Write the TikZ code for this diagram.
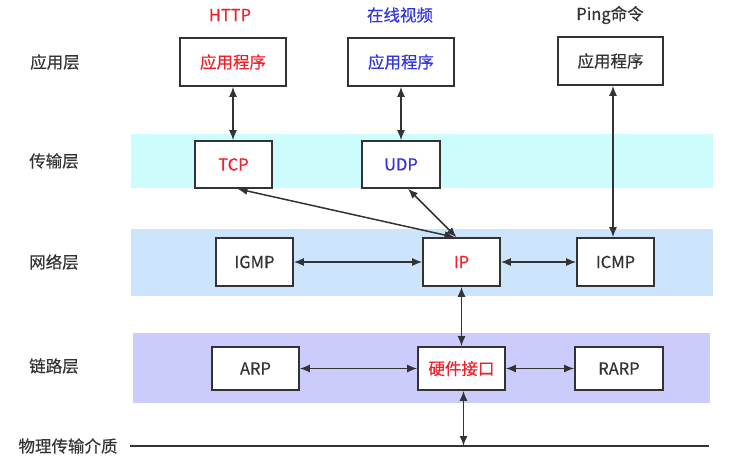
\documentclass[tikz,border=0pt]{standalone}
\usepackage{fontspec}
\setmainfont{Noto Sans CJK SC}[FakeBold=0.4]
\usetikzlibrary{arrows.meta}
\definecolor{tband}{HTML}{CCFCFC}
\definecolor{nband}{HTML}{CCE5FC}
\definecolor{lband}{HTML}{CCCCFC}
\definecolor{myred}{HTML}{F0202A}
\definecolor{myblue}{HTML}{3434E0}
\definecolor{dk}{HTML}{333333}
\begin{document}
\begin{tikzpicture}[x=1pt,y=-1pt,
  box/.style={draw=dk, line width=1.6pt, fill=white, inner sep=0pt, font=\fontsize{16.5}{19}\selectfont, text=dk},
  arr/.style={{Latex[length=10pt,width=8pt]}-{Latex[length=10pt,width=8pt]}, line width=1.5pt, draw=dk},
  lbl/.style={font=\fontsize{16.5}{19}\selectfont, text=dk, inner sep=0pt}]
\useasboundingbox (0,0) rectangle (752,467);
\fill[white] (0,0) rectangle (752,467);
% bands
\fill[tband] (131,134) rectangle (713,188);
\fill[nband] (131,229) rectangle (713,296);
\fill[lband] (133,333) rectangle (710,403);
% layer labels
\node[lbl] (l1) at (55,62) {应用层};
\node[lbl] (l2) at (54,161) {传输层};
\node[lbl] (l3) at (54,262) {网络层};
\node[lbl] (l4) at (54,366) {链路层};
\node[lbl] (l5) at (68,446) {物理传输介质};
% top labels
\node[lbl, text=myred] (t1) at (230,15) {HTTP};
\node[lbl, text=myblue] (t2) at (400,15) {在线视频};
\node[lbl] (t3) at (610,15) {Ping命令};
% application boxes
\node[box, minimum width=106pt, minimum height=48pt, text=myred] (a1) at (233,62) {应用程序};
\node[box, minimum width=106pt, minimum height=48pt, text=myblue] (a2) at (401,62) {应用程序};
\node[box, minimum width=105pt, minimum height=48pt] (a3) at (610.5,61) {应用程序};
% transport
\node[box, minimum width=77pt, minimum height=47pt, text=myred] (tcp) at (233.5,164.5) {TCP};
\node[box, minimum width=78pt, minimum height=47pt, text=myblue] (udp) at (401,164.5) {UDP};
% network
\node[box, minimum width=77pt, minimum height=48pt] (igmp) at (254.5,262) {IGMP};
\node[box, minimum width=77pt, minimum height=48pt, text=myred] (ip) at (461.5,262) {IP};
\node[box, minimum width=77pt, minimum height=48pt] (icmp) at (615.5,262) {ICMP};
% link
\node[box, minimum width=87pt, minimum height=43pt] (arp) at (255.5,368.5) {ARP};
\node[box, minimum width=87pt, minimum height=43pt, text=myred] (hw) at (461.5,368.5) {硬件接口};
\node[box, minimum width=88pt, minimum height=43pt] (rarp) at (619,368.5) {RARP};
% physical line
\coordinate (pl) at (130,446);
\coordinate (pr) at (709,446);
\draw[dk, line width=1.5pt] (pl) -- (pr);
% connectors
\draw[arr] (a1.south) -- (tcp.north -| a1.south);
\draw[arr] (a2.south) -- (udp.north);
\draw[arr] ([xshift=2.5pt]a3.south) -- ([xshift=-2.5pt]icmp.north);
\draw[arr] ([xshift=4pt]tcp.south) -- ([xshift=-7pt]ip.north);
\draw[arr] ([xshift=7pt]udp.south) -- ([xshift=-5pt]ip.north);
\draw[arr] (igmp.east) -- (ip.west);
\draw[arr] (ip.east) -- (icmp.west);
\draw[arr] (ip.south) -- (hw.north);
\draw[arr] (arp.east) -- (hw.west);
\draw[arr] (hw.east) -- (rarp.west);
\draw[arr] ([xshift=2pt]hw.south) -- ([xshift=2pt]hw.south |- pl);
\end{tikzpicture}
\end{document}
